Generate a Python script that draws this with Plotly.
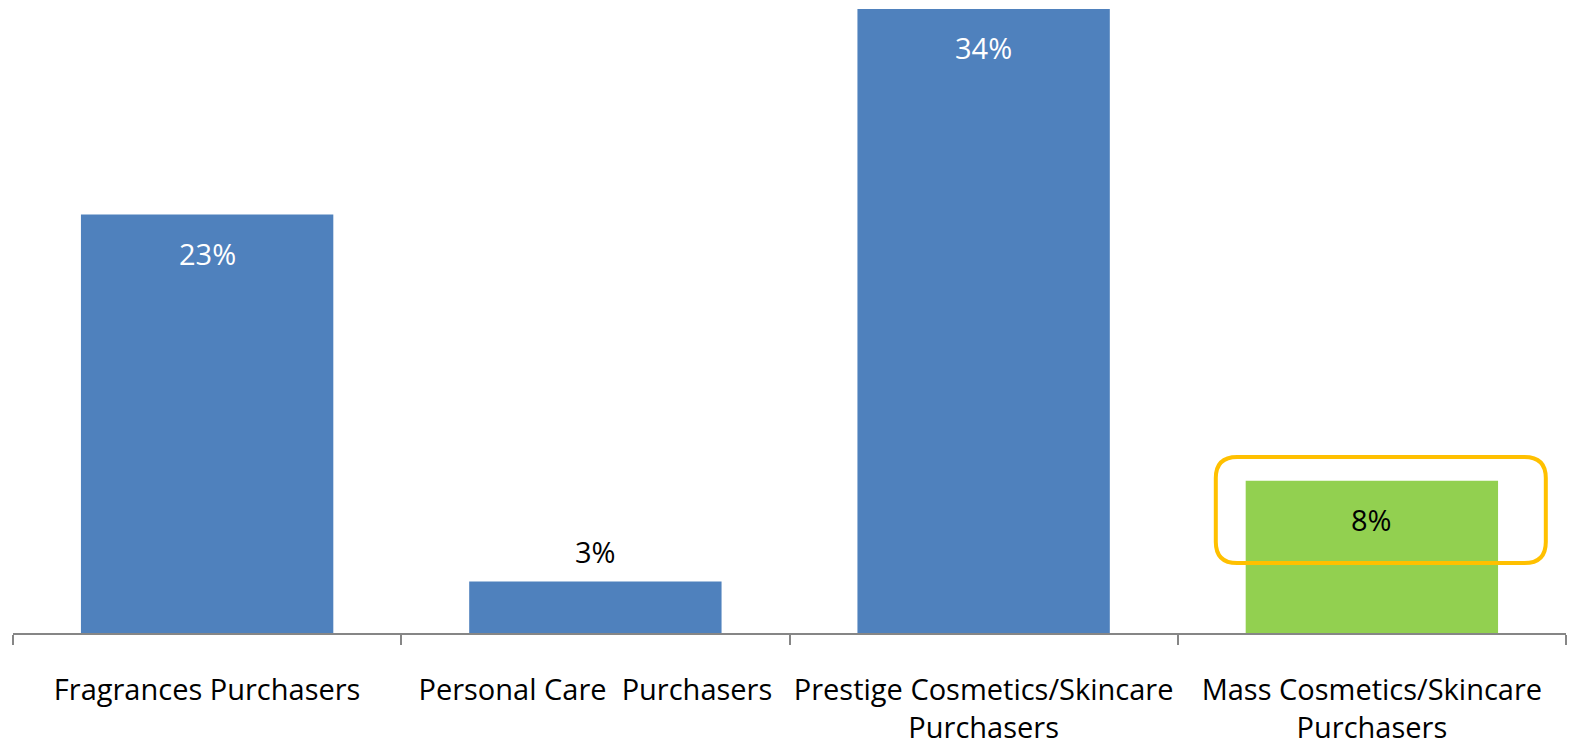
import plotly.graph_objects as go

# Share of purchasers by segment (%)
categories = [
    "Fragrances Purchasers",
    "Personal Care  Purchasers",
    "Prestige Cosmetics/Skincare<br>Purchasers",
    "Mass Cosmetics/Skincare<br>Purchasers",
]
values = [22.8, 2.8, 34.0, 8.3]
bar_colors = ["#4F81BD", "#4F81BD", "#4F81BD", "#92D050"]
label_colors = ["white", "black", "white", "black"]
label_inside = [True, False, True, True]

FONT = "Open Sans"
SIZE = 29

fig = go.Figure(
    go.Bar(
        x=categories,
        y=values,
        marker=dict(color=bar_colors, line=dict(width=0)),
        width=0.65,
        hoverinfo="skip",
    )
)

# value labels
for cat, v, col, inside in zip(categories, values, label_colors, label_inside):
    fig.add_annotation(
        x=cat, y=v, xref="x", yref="y",
        text=f"{v:.0f}%",
        showarrow=False,
        yanchor="middle",
        yshift=-39 if inside else 30,
        font=dict(family=FONT, size=SIZE, color=col),
    )

# rounded highlight box around the mass segment
def rounded_rect(x0, x1, y0, y1, rx, ry):
    return (
        f"M {x0 + rx},{y1} L {x1 - rx},{y1} Q {x1},{y1} {x1},{y1 - ry} "
        f"L {x1},{y0 + ry} Q {x1},{y0} {x1 - rx},{y0} "
        f"L {x0 + rx},{y0} Q {x0},{y0} {x0},{y0 + ry} "
        f"L {x0},{y1 - ry} Q {x0},{y1} {x0 + rx},{y1} Z"
    )

fig.add_shape(
    type="path",
    xref="x", yref="y",
    path=rounded_rect(2.598, 3.448, 3.81, 9.59, 0.055, 1.15),
    line=dict(color="#FFC000", width=4),
    fillcolor="rgba(0,0,0,0)",
    layer="above",
)

fig.update_layout(
    width=1574,
    height=745,
    margin=dict(l=13, r=8, t=0, b=112, autoexpand=False),
    paper_bgcolor="white",
    plot_bgcolor="white",
    showlegend=False,
    bargap=0.35,
    font=dict(family=FONT, size=SIZE, color="black"),
)

fig.update_xaxes(
    type="category",
    showline=True,
    linecolor="#868686",
    linewidth=2,
    ticks="outside",
    tickson="boundaries",
    ticklen=10,
    tickwidth=2,
    tickcolor="#868686",
    showgrid=False,
    tickangle=0,
    automargin=False,
    tickfont=dict(family=FONT, size=SIZE, color="black"),
    ticklabelstandoff=30,
)

fig.update_yaxes(
    range=[0, 34.49],
    visible=False,
    showgrid=False,
    zeroline=False,
)

fig.write_html("out.html")
